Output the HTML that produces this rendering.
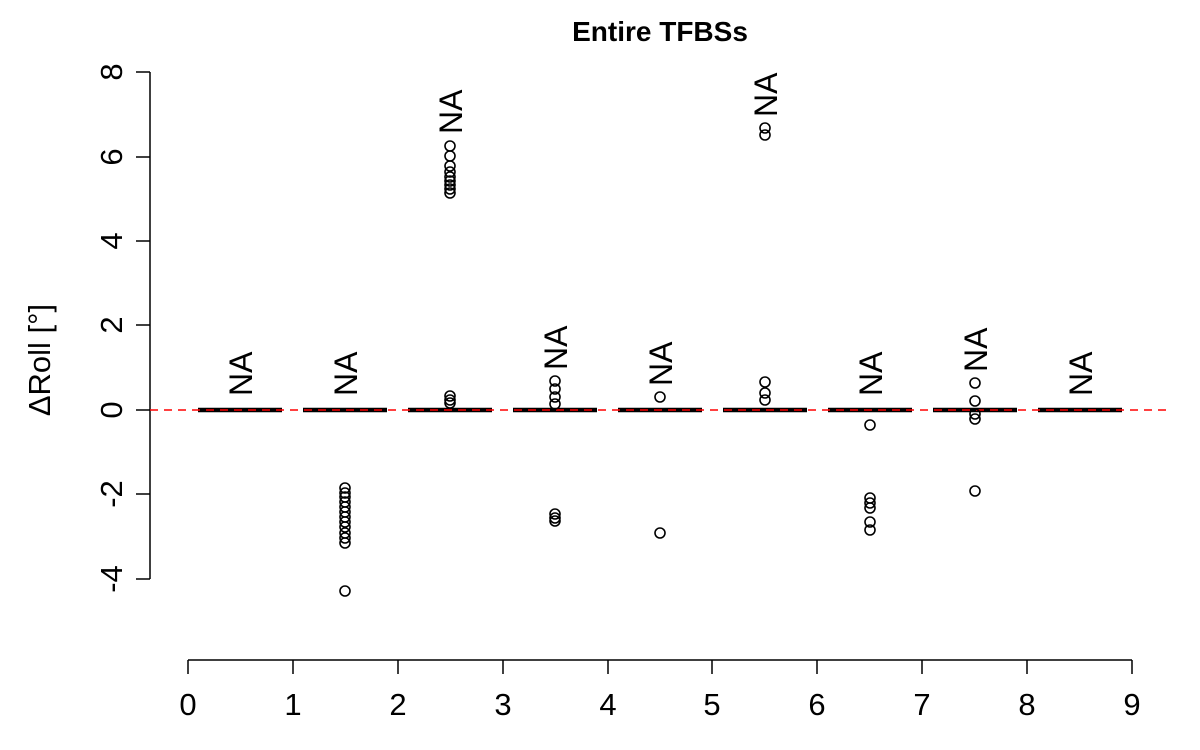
<!DOCTYPE html>
<html><head><meta charset="utf-8"><style>body{margin:0;background:#fff}svg{display:block}</style></head>
<body>
<svg width="1200" height="750" viewBox="0 0 1200 750" xmlns="http://www.w3.org/2000/svg" font-family="Liberation Sans, sans-serif">
<rect width="1200" height="750" fill="#fff"/>
<text x="660" y="41" font-size="28" font-weight="bold" text-anchor="middle">Entire TFBSs</text>
<g stroke="#000" stroke-width="1.5" fill="none">
<line x1="150" y1="72" x2="150" y2="579"/>
<line x1="136" y1="72" x2="150" y2="72"/><line x1="136" y1="157" x2="150" y2="157"/><line x1="136" y1="241" x2="150" y2="241"/><line x1="136" y1="325" x2="150" y2="325"/><line x1="136" y1="410" x2="150" y2="410"/><line x1="136" y1="494" x2="150" y2="494"/><line x1="136" y1="579" x2="150" y2="579"/>
<line x1="188" y1="660" x2="1132" y2="660"/>
<line x1="188" y1="660" x2="188" y2="674"/><line x1="293" y1="660" x2="293" y2="674"/><line x1="398" y1="660" x2="398" y2="674"/><line x1="503" y1="660" x2="503" y2="674"/><line x1="608" y1="660" x2="608" y2="674"/><line x1="712" y1="660" x2="712" y2="674"/><line x1="817" y1="660" x2="817" y2="674"/><line x1="922" y1="660" x2="922" y2="674"/><line x1="1027" y1="660" x2="1027" y2="674"/><line x1="1132" y1="660" x2="1132" y2="674"/>
</g>
<g font-size="31" text-anchor="middle">
<text transform="translate(122,72) rotate(-90)">8</text>
<text transform="translate(122,157) rotate(-90)">6</text>
<text transform="translate(122,241) rotate(-90)">4</text>
<text transform="translate(122,325) rotate(-90)">2</text>
<text transform="translate(122,410) rotate(-90)">0</text>
<text transform="translate(122,494) rotate(-90)">-2</text>
<text transform="translate(122,579) rotate(-90)">-4</text>
<text transform="translate(50,360) rotate(-90)">ΔRoll [°]</text>
<text x="188" y="715">0</text><text x="293" y="715">1</text><text x="398" y="715">2</text><text x="503" y="715">3</text><text x="608" y="715">4</text><text x="712" y="715">5</text><text x="817" y="715">6</text><text x="922" y="715">7</text><text x="1027" y="715">8</text><text x="1132" y="715">9</text>
</g>
<g stroke="#000" stroke-width="4.5">
<line x1="198" y1="410" x2="282" y2="410"/><line x1="303" y1="410" x2="387" y2="410"/><line x1="408" y1="410" x2="492" y2="410"/><line x1="513" y1="410" x2="597" y2="410"/><line x1="618" y1="410" x2="702" y2="410"/><line x1="723" y1="410" x2="807" y2="410"/><line x1="828" y1="410" x2="912" y2="410"/><line x1="933" y1="410" x2="1017" y2="410"/><line x1="1038" y1="410" x2="1122" y2="410"/>
</g>
<line x1="150" y1="410" x2="1170" y2="410" stroke="#f00" stroke-width="1.5" stroke-dasharray="8,6"/>
<g stroke="#000" stroke-width="1.6" fill="none">
<circle cx="345" cy="488" r="5"/><circle cx="345" cy="493" r="5"/><circle cx="345" cy="497" r="5"/><circle cx="345" cy="502" r="5"/><circle cx="345" cy="507" r="5"/><circle cx="345" cy="512" r="5"/><circle cx="345" cy="517" r="5"/><circle cx="345" cy="522" r="5"/><circle cx="345" cy="527" r="5"/><circle cx="345" cy="533" r="5"/><circle cx="345" cy="538" r="5"/><circle cx="345" cy="543" r="5"/><circle cx="345" cy="591" r="5"/>
<circle cx="450" cy="146" r="5"/><circle cx="450" cy="156" r="5"/><circle cx="450" cy="166" r="5"/><circle cx="450" cy="172" r="5"/><circle cx="450" cy="177" r="5"/><circle cx="450" cy="181" r="5"/><circle cx="450" cy="185" r="5"/><circle cx="450" cy="189" r="5"/><circle cx="450" cy="193" r="5"/>
<circle cx="450" cy="396" r="5"/><circle cx="450" cy="400" r="5"/><circle cx="450" cy="403" r="5"/>
<circle cx="555" cy="381" r="5"/><circle cx="555" cy="389" r="5"/><circle cx="555" cy="397" r="5"/><circle cx="555" cy="404" r="5"/><circle cx="555" cy="514" r="5"/><circle cx="555" cy="518" r="5"/><circle cx="555" cy="521" r="5"/>
<circle cx="660" cy="397" r="5"/><circle cx="660" cy="533" r="5"/>
<circle cx="765" cy="128" r="5"/><circle cx="765" cy="135" r="5"/><circle cx="765" cy="382" r="5"/><circle cx="765" cy="393" r="5"/><circle cx="765" cy="400" r="5"/>
<circle cx="870" cy="425" r="5"/><circle cx="870" cy="498" r="5"/><circle cx="870" cy="503" r="5"/><circle cx="870" cy="508" r="5"/><circle cx="870" cy="522" r="5"/><circle cx="870" cy="530" r="5"/>
<circle cx="975" cy="383" r="5"/><circle cx="975" cy="401" r="5"/><circle cx="975" cy="414" r="5"/><circle cx="975" cy="419" r="5"/><circle cx="975" cy="491" r="5"/>
</g>
<g font-size="32">
<text transform="translate(252,396) rotate(-90)">NA</text>
<text transform="translate(357,396) rotate(-90)">NA</text>
<text transform="translate(462,134) rotate(-90)">NA</text>
<text transform="translate(567,370) rotate(-90)">NA</text>
<text transform="translate(672,386) rotate(-90)">NA</text>
<text transform="translate(777,117) rotate(-90)">NA</text>
<text transform="translate(882,396) rotate(-90)">NA</text>
<text transform="translate(987,372) rotate(-90)">NA</text>
<text transform="translate(1092,396) rotate(-90)">NA</text>
</g>
</svg>
</body></html>
